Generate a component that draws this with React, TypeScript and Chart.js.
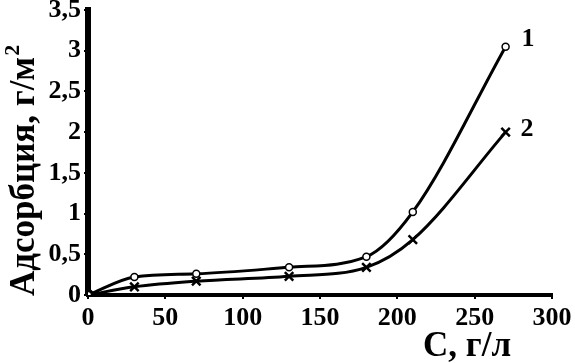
import React, { useEffect, useRef } from "react";
import { Chart, registerables } from "chart.js";

Chart.register(...registerables);

const concentrations = [0, 30, 70, 130, 180, 210, 270];
const adsorption1 = [0, 0.22, 0.26, 0.34, 0.47, 1.02, 3.05];
const adsorption2 = [0, 0.1, 0.17, 0.23, 0.34, 0.68, 2.0];
const seriesLabels = ["1", "2"];
const yTitle = "Адсорбция, г/м";
const yTitleSup = "2";
const xTitle = "С, г/л";

const FONT = "'Liberation Serif', 'Times New Roman', serif";

const textPlugin = {
  id: "textPlugin",
  afterDraw(chart: any) {
    const ctx = chart.ctx;
    ctx.save();
    ctx.fillStyle = "#000";
    const xs = chart.scales.x;
    const ys = chart.scales.y;
    ctx.font = `bold 26px ${FONT}`;
    ctx.textAlign = "left";
    ctx.textBaseline = "alphabetic";
    const lastX = concentrations[concentrations.length - 1];
    const px = xs.getPixelForValue(lastX);
    ctx.fillText(seriesLabels[0], px + 16, ys.getPixelForValue(adsorption1[adsorption1.length - 1]) - 1);
    ctx.fillText(seriesLabels[1], px + 15, ys.getPixelForValue(adsorption2[adsorption2.length - 1]) + 4);
    ctx.font = `bold 35px ${FONT}`;
    ctx.textAlign = "center";
    ctx.fillText(xTitle, 467, 356);
    ctx.translate(34, 296);
    ctx.rotate(-Math.PI / 2);
    ctx.textAlign = "left";
    ctx.font = `bold 35px ${FONT}`;
    ctx.fillText(yTitle, 0, 0);
    const w = ctx.measureText(yTitle).width;
    ctx.font = `bold 22px ${FONT}`;
    ctx.fillText(yTitleSup, w + 1, -15);
    ctx.restore();
  },
};

function fmt(v: number) {
  return String(v).replace(".", ",");
}

export default function App() {
  const ref = useRef<HTMLCanvasElement | null>(null);
  useEffect(() => {
    if (!ref.current) return;
    const chart = new Chart(ref.current, {
      type: "line",
      data: {
        datasets: [
          {
            label: seriesLabels[0],
            data: concentrations.map((x, i) => ({ x, y: adsorption1[i] })),
            borderColor: "#000",
            borderWidth: 3,
            cubicInterpolationMode: "monotone",
            pointStyle: "circle",
            pointRadius: 3.5,
            pointBorderWidth: 1.5,
            pointBackgroundColor: "#fff",
            pointBorderColor: "#000",
          },
          {
            label: seriesLabels[1],
            data: concentrations.map((x, i) => ({ x, y: adsorption2[i] })),
            borderColor: "#000",
            borderWidth: 3,
            cubicInterpolationMode: "monotone",
            pointStyle: "crossRot",
            pointRadius: 6,
            pointBorderWidth: 2.5,
            pointBackgroundColor: "#000",
            pointBorderColor: "#000",
          },
        ],
      },
      options: {
        responsive: false,
        animation: false,
        devicePixelRatio: 1,
        layout: { padding: { top: 10, right: 23, left: 0, bottom: 0 } },
        plugins: { legend: { display: false }, tooltip: { enabled: false } },
        scales: {
          x: {
            type: "linear",
            min: 0,
            max: 300,
            grid: { display: true, drawOnChartArea: false, drawTicks: true, tickLength: 4, color: "#000", lineWidth: 2 },
            border: { display: true, color: "#000", width: 4 },
            ticks: {
              stepSize: 50,
              color: "#000",
              padding: 4,
              maxRotation: 0,
              font: { family: FONT, size: 26, weight: "bold" },
              callback: (v: any) => fmt(Number(v)),
            },
            afterFit(scale: any) {
              scale.height = 68;
              scale.paddingLeft = 0;
              scale.paddingRight = 0;
            },
          },
          y: {
            type: "linear",
            min: 0,
            max: 3.5,
            grid: { display: true, drawOnChartArea: false, drawTicks: true, tickLength: 4, color: "#000", lineWidth: 2 },
            border: { display: true, color: "#000", width: 6 },
            ticks: {
              stepSize: 0.5,
              color: "#000",
              padding: 3,
              font: { family: FONT, size: 26, weight: "bold" },
              callback: (v: any) => fmt(Number(v)),
            },
            afterFit(scale: any) {
              scale.width = 88;
              scale.paddingTop = 0;
              scale.paddingBottom = 0;
            },
          },
        },
      },
      plugins: [textPlugin],
    } as any);
    return () => chart.destroy();
  }, []);
  return (
    <div style={{ position: "fixed", left: 0, top: 0, width: 575, height: 363, background: "#fff" }}>
      <canvas ref={ref} width={575} height={363} style={{ width: 575, height: 363, display: "block" }} />
    </div>
  );
}
